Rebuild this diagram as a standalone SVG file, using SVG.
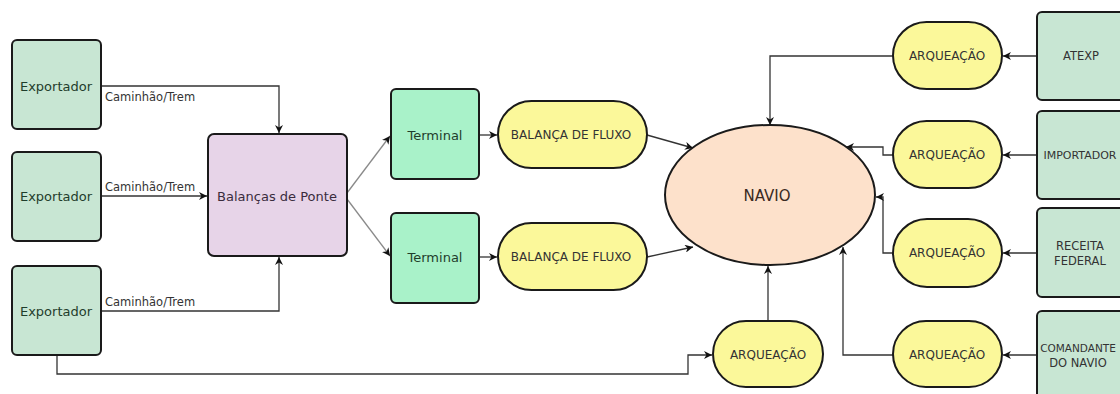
<svg xmlns="http://www.w3.org/2000/svg" width="1120" height="394" viewBox="0 0 1120 394">
<style>
text{font-family:"DejaVu Sans","Liberation Sans",sans-serif;text-anchor:middle;dominant-baseline:central}
.exp{fill:#c8e6d3;stroke:#1a1a1a;stroke-width:2}
.term{fill:#a9f2c9;stroke:#1a1a1a;stroke-width:2}
.bal{fill:#e7d4e8;stroke:#1a1a1a;stroke-width:2}
.yel{fill:#fbf89a;stroke:#1a1a1a;stroke-width:2}
.nav{fill:#fde1cb;stroke:#1a1a1a;stroke-width:2}
.t13{font-size:13px;fill:#1f3d2b}
.t12{font-size:12px;fill:#333}
.t11{font-size:11.5px;fill:#333}
.lbl{font-size:11.5px;fill:#333;text-anchor:start}
.c{fill:none;stroke:#333;stroke-width:1.3}
.g{fill:none;stroke:#8a8a8a;stroke-width:1.3}
</style>
<defs>
<marker id="ah" viewBox="0 0 10 10" refX="10" refY="5" markerWidth="8" markerHeight="8" markerUnits="userSpaceOnUse" orient="auto">
<path d="M0,0 L10,5 L0,10 L3,5 z" fill="#111"/>
</marker>
</defs>
<rect width="1120" height="394" fill="#ffffff"/>
<g id="connectors">
<polyline class="c" points="101,86 279,86 279,133" marker-end="url(#ah)"/>
<line class="c" x1="101" y1="196" x2="207" y2="196" marker-end="url(#ah)"/>
<polyline class="c" points="101,311 279,311 279,257" marker-end="url(#ah)"/>
<polyline class="c" points="57,356 57,374 688,374 688,355 712,355" marker-end="url(#ah)"/>
<line class="g" x1="347" y1="193" x2="390" y2="136" marker-end="url(#ah)"/>
<line class="g" x1="347" y1="199" x2="390" y2="256" marker-end="url(#ah)"/>
<line class="c" x1="479" y1="135" x2="497" y2="135" marker-end="url(#ah)"/>
<line class="c" x1="479" y1="257" x2="497" y2="257" marker-end="url(#ah)"/>
<line class="c" x1="647" y1="135" x2="693" y2="148" marker-end="url(#ah)"/>
<line class="c" x1="647" y1="257" x2="693" y2="247" marker-end="url(#ah)"/>
<polyline class="c" points="893,56 770,56 770,125" marker-end="url(#ah)"/>
<polyline class="c" points="893,155 883,155 883,147 846,147" marker-end="url(#ah)"/>
<polyline class="c" points="893,253 883,253 883,197 876,197" marker-end="url(#ah)"/>
<polyline class="c" points="893,355 843,355 843,247" marker-end="url(#ah)"/>
<line class="c" x1="768" y1="321" x2="768" y2="266" marker-end="url(#ah)"/>
<line class="c" x1="1037" y1="56" x2="1003" y2="56" marker-end="url(#ah)"/>
<line class="c" x1="1037" y1="155" x2="1003" y2="155" marker-end="url(#ah)"/>
<line class="c" x1="1037" y1="253" x2="1003" y2="253" marker-end="url(#ah)"/>
<line class="c" x1="1037" y1="355" x2="1003" y2="355" marker-end="url(#ah)"/>
<text class="lbl" x="105" y="97">Caminhão/Trem</text>
<text class="lbl" x="105" y="187">Caminhão/Trem</text>
<text class="lbl" x="105" y="302">Caminhão/Trem</text>
</g>
<g id="exp1"><rect class="exp" x="12" y="40" width="89" height="89" rx="5"/><text class="t13" x="56" y="86">Exportador</text></g>
<g id="exp2"><rect class="exp" x="12" y="152" width="89" height="89" rx="5"/><text class="t13" x="56" y="196">Exportador</text></g>
<g id="exp3"><rect class="exp" x="12" y="266" width="89" height="89" rx="5"/><text class="t13" x="56" y="311">Exportador</text></g>
<g id="balancas"><rect class="bal" x="208" y="134" width="139" height="122" rx="6"/><text class="t13" x="277" y="196" style="fill:#3a2c3d">Balanças de Ponte</text></g>
<g id="term1"><rect class="term" x="391" y="89" width="88" height="90" rx="5"/><text class="t13" x="435" y="135">Terminal</text></g>
<g id="term2"><rect class="term" x="391" y="213" width="88" height="90" rx="5"/><text class="t13" x="435" y="257">Terminal</text></g>
<g id="fluxo1"><rect class="yel" x="498" y="101" width="149" height="67" rx="33.5"/><text class="t12" x="571" y="135">BALANÇA DE FLUXO</text></g>
<g id="fluxo2"><rect class="yel" x="498" y="223" width="149" height="67" rx="33.5"/><text class="t12" x="571" y="257">BALANÇA DE FLUXO</text></g>
<g id="navio"><ellipse class="nav" cx="770" cy="195" rx="105" ry="70"/><text x="767" y="196" style="font-size:15px;fill:#3a2a22">NAVIO</text></g>
<g id="arq1"><rect class="yel" x="893" y="22" width="109" height="67" rx="33.5"/><text class="t12" x="947" y="56">ARQUEAÇÃO</text></g>
<g id="arq2"><rect class="yel" x="893" y="121" width="109" height="67" rx="33.5"/><text class="t12" x="947" y="155">ARQUEAÇÃO</text></g>
<g id="arq3"><rect class="yel" x="893" y="219" width="109" height="68" rx="34"/><text class="t12" x="947" y="253">ARQUEAÇÃO</text></g>
<g id="arq4"><rect class="yel" x="893" y="321" width="109" height="66" rx="33"/><text class="t12" x="947" y="355">ARQUEAÇÃO</text></g>
<g id="arq5"><rect class="yel" x="713" y="321" width="110" height="66" rx="33"/><text class="t12" x="768" y="355">ARQUEAÇÃO</text></g>
<g id="atexp"><rect class="exp" x="1037" y="12" width="90" height="88" rx="5"/><text class="t11" x="1081" y="56">ATEXP</text></g>
<g id="importador"><rect class="exp" x="1037" y="111" width="90" height="88" rx="5"/><text class="t11" x="1080" y="155" style="font-size:11px">IMPORTADOR</text></g>
<g id="receita"><rect class="exp" x="1037" y="208" width="90" height="89" rx="5"/><text class="t11" x="1080" y="246">RECEITA</text><text class="t11" x="1080" y="261">FEDERAL</text></g>
<g id="comandante"><rect class="exp" x="1037" y="311" width="90" height="100" rx="5"/><text class="t11" x="1078" y="348" style="font-size:10.5px">COMANDANTE</text><text class="t11" x="1078" y="363">DO NAVIO</text></g>
</svg>
